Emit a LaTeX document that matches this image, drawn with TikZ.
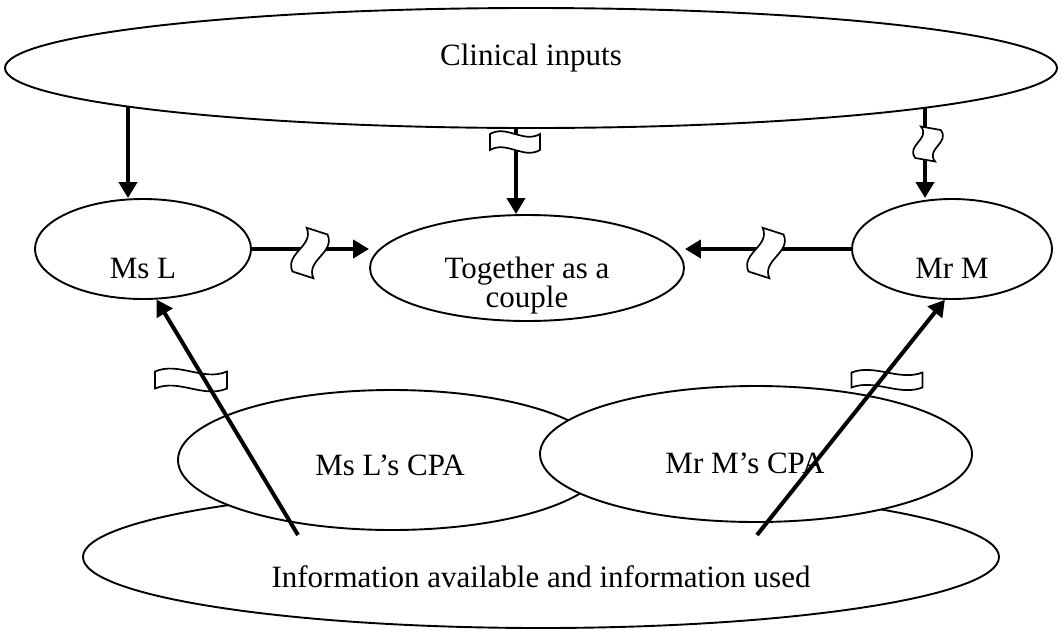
\documentclass[tikz,border=0pt]{standalone}
\usepackage{fontspec}
\setmainfont{Liberation Serif}
\usetikzlibrary{shapes.geometric,arrows.meta}
\begin{document}
\begin{tikzpicture}[x=1pt,y=-1pt,
  oval/.style={ellipse, draw, line width=1.9pt, inner sep=0pt},
  whiteoval/.style={oval, fill=white},
  lbl/.style={font=\fontsize{31}{31}\selectfont, inner sep=0pt, align=center},
  conn/.style={line width=4pt, -{Triangle[length=16pt,width=18pt]}},
  wave/.pic={\draw[line width=1.7pt, fill=white]
     (-0.5,-0.5) .. controls (-0.17,-1.1) and (0.17,0.1) .. (0.5,-0.5)
     -- (0.5,0.5) .. controls (0.17,1.1) and (-0.17,-0.1) .. (-0.5,0.5) -- cycle;}
]
\useasboundingbox (0,0) rectangle (1063,630);

% top ellipse
\node[oval, minimum width=1052pt, minimum height=120pt] (ci) at (531,68) {};
\node[lbl] (citxt) at (531,58) {Clinical inputs};

% middle row
\node[oval, minimum width=216pt, minimum height=100pt] (msl) at (143,249) {};
\node[oval, minimum width=314pt, minimum height=106pt] (tog) at (527,268) {};
\node[oval, minimum width=200pt, minimum height=100pt] (mrm) at (952,249) {};
\node[lbl] (msltxt) at (143,268) {Ms L};
\node[lbl, text height=22pt, text depth=6pt] (togtxt) at (527,299) {Together as a\\[-2pt]couple};
\node[lbl] (mrmtxt) at (952,268) {Mr M};

% vertical arrows
\coordinate (ciL) at (128,106);
\coordinate (ciM) at (516,128);
\coordinate (ciR) at (925,107);
\draw[conn] (ciL) -- (ciL |- msl.north);
\draw[conn] (ciM) -- (ciM |- tog.north);
\draw[conn] (ciR) -- (ciR |- mrm.north);
\pic[xscale=50, yscale=16] at (515,142) {wave};
\pic[rotate=80, xscale=32, yscale=20] at (928,144) {wave};

% horizontal arrows
\draw[conn] (msl.east) -- (msl.east -| tog.west);
\draw[conn] (mrm.west) -- (mrm.west -| tog.east);
\pic[rotate=72, xscale=46, yscale=22] at (310,253) {wave};
\pic[rotate=72, xscale=46, yscale=22] at (766,253) {wave};

% bottom ellipses
\node[oval, minimum width=916pt, minimum height=142pt] (info) at (541,557) {};
\node[whiteoval, minimum width=428pt, minimum height=140pt] (lcpa) at (392,460) {};
\node[whiteoval, minimum width=432pt, minimum height=136pt] (mcpa) at (756,454) {};
\node[lbl] (lcpatxt) at (390,465) {Ms L’s CPA};
\node[lbl] (mcpatxt) at (745,463) {Mr M’s CPA};
\node[lbl] (infotxt) at (541,577) {Information available and information used};

% diagonal arrows
\pic[xscale=72, yscale=17] at (191,380) {wave};
\pic[xscale=71, yscale=15] at (887,380) {wave};
\coordinate (dL) at (298,535);
\coordinate (dR) at (757,535);
\draw[conn] (dL) -- (msl.-75);
\draw[conn] (dR) -- (mrm.-98);
\end{tikzpicture}
\end{document}
